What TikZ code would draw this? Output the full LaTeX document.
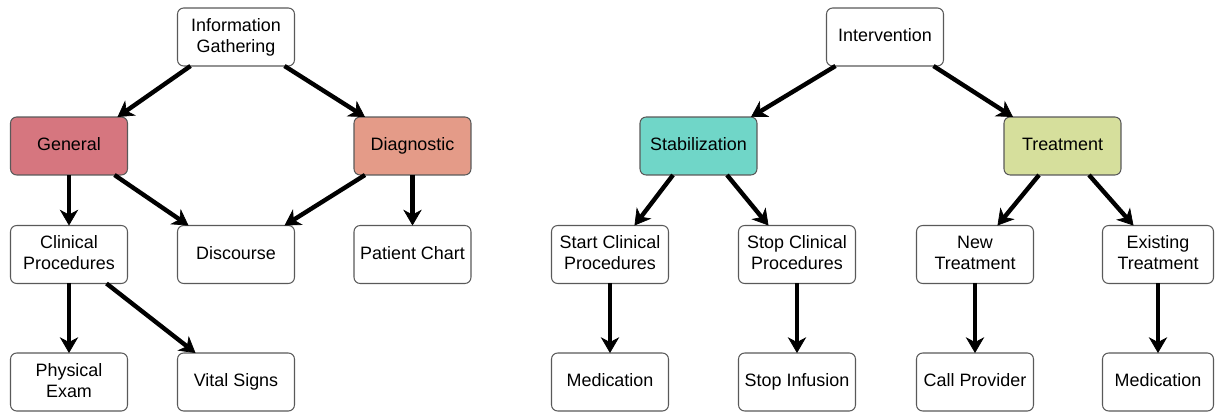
\documentclass[tikz,border=0pt]{standalone}
\usepackage{fontspec}
\setmainfont{Liberation Sans}
\usetikzlibrary{arrows.meta,calc}

\definecolor{generalred}{HTML}{D6767F}
\definecolor{diagsalmon}{HTML}{E49B88}
\definecolor{stabteal}{HTML}{70D6C8}
\definecolor{treatolive}{HTML}{D6DF9C}

\newcommand\boxstrut{\rule[-2pt]{0pt}{9.2pt}}

\begin{document}
\begin{tikzpicture}[x=0.02cm,y=-0.02cm,
  box/.style={draw=black!65,line width=0.6pt,rounded corners=3.5pt,fill=white,
    minimum width=2.34cm,minimum height=1.16cm,inner sep=0pt,outer sep=0pt,
    align=center,font=\fontsize{10.2pt}{12pt}\selectfont,
    execute at begin node=\boxstrut,execute at end node=\boxstrut},
  link/.style={line width=2.5pt,-{Stealth[length=9pt,width=10.5pt,inset=2.8pt,line width=0.4pt]}}]

\useasboundingbox (0,0) rectangle (1215,412);

% left tree
\node[box] (info) at (236,37) {Information\\Gathering};
\node[box,fill=generalred] (general) at (69,146) {General};
\node[box,fill=diagsalmon] (diag) at (412.5,146) {Diagnostic};
\node[box] (clin) at (69,254.5) {Clinical\\Procedures};
\node[box] (disc) at (236,254.5) {Discourse};
\node[box] (chart) at (412.5,254.5) {Patient Chart};
\node[box] (exam) at (69,382) {Physical\\Exam};
\node[box] (vital) at (236,382) {Vital Signs};

\draw[link] ($(info.south west)+(13,0)$) -- ($(general.north east)+(-10,0)$);
\draw[link] ($(info.south east)+(-10,0)$) -- ($(diag.north west)+(11,0)$);
\draw[link] (general.south) -- (clin.north);
\draw[link] ($(general.south east)+(-13,0)$) -- ($(disc.north west)+(11,0)$);
\draw[link] ($(diag.south west)+(11,0)$) -- ($(disc.north east)+(-10,0)$);
\draw[link] (diag.south) -- (chart.north);
\draw[link] (clin.south) -- (exam.north);
\draw[link] ($(clin.south east)+(-21,0)$) -- ($(vital.north west)+(18,0)$);

% right tree
\node[box] (interv) at (885,37) {Intervention};
\node[box,fill=stabteal] (stab) at (698.5,146) {Stabilization};
\node[box,fill=treatolive] (treat) at (1062.5,146) {Treatment};
\node[box] (startclin) at (610,254.5) {Start Clinical\\Procedures};
\node[box] (stopclin) at (797,254.5) {Stop Clinical\\Procedures};
\node[box] (newtreat) at (975,254.5) {New\\Treatment};
\node[box,minimum width=2.22cm] (oldtreat) at (1158,254.5) {Existing\\Treatment};
\node[box] (medA) at (610,382) {Medication};
\node[box] (infusion) at (797,382) {Stop Infusion};
\node[box] (provider) at (975,382) {Call Provider};
\node[box,minimum width=2.22cm] (medB) at (1158,382) {Medication};

\draw[link] ($(interv.south west)+(9,0)$) -- ($(stab.north east)+(-6,0)$);
\draw[link] ($(interv.south east)+(-10,0)$) -- ($(treat.north west)+(9,0)$);
\draw[link] ($(stab.south west)+(33,0)$) -- ($(startclin.north east)+(-34,0)$);
\draw[link] ($(stab.south east)+(-30,0)$) -- ($(stopclin.north west)+(30,0)$);
\draw[link] ($(treat.south west)+(35,0)$) -- ($(newtreat.north east)+(-36,0)$);
\draw[link] ($(treat.south east)+(-32,0)$) -- ($(oldtreat.north west)+(31,0)$);
\draw[link] (startclin.south) -- (medA.north);
\draw[link] (stopclin.south) -- (infusion.north);
\draw[link] (newtreat.south) -- (provider.north);
\draw[link] (oldtreat.south) -- (medB.north);

\end{tikzpicture}
\end{document}
